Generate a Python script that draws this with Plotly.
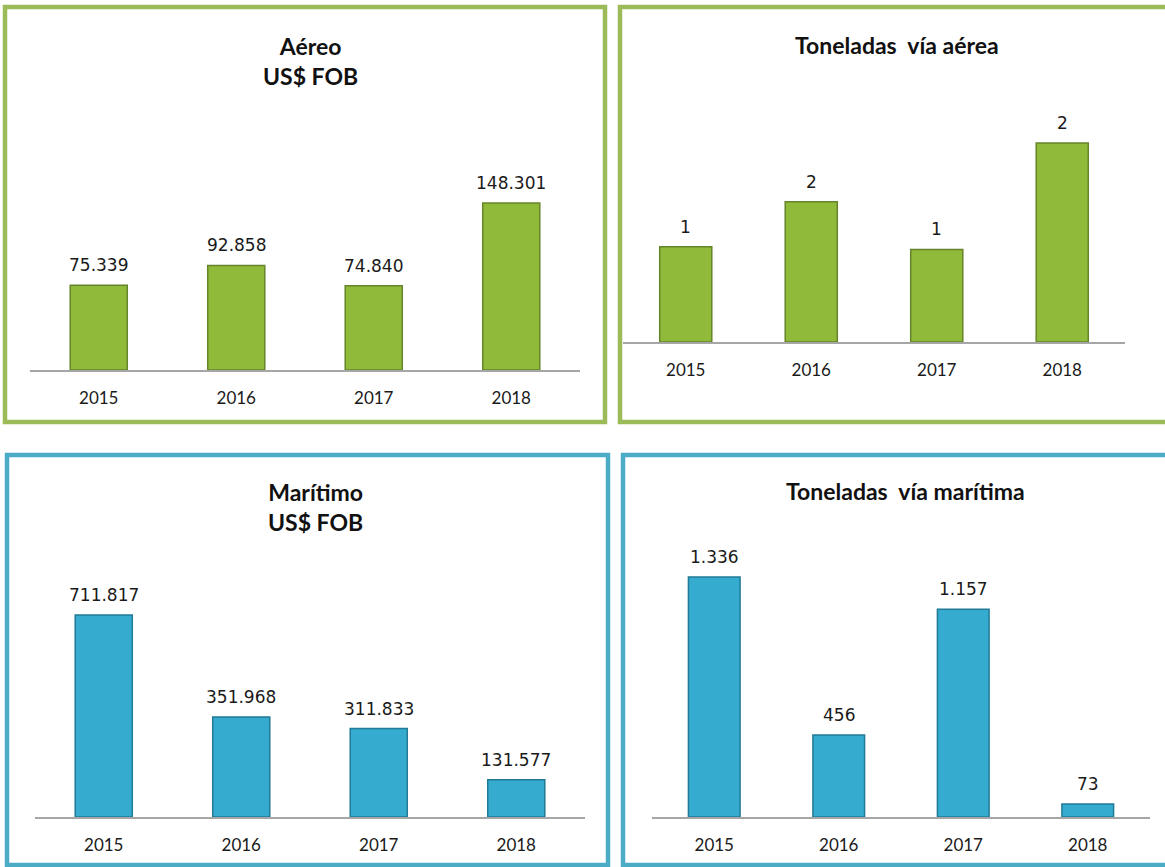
import plotly.graph_objects as go

# ---------------- data ----------------
years = ["2015", "2016", "2017", "2018"]
aereo_fob = [75339, 92858, 74840, 148301]
aereo_ton = [1.10, 1.62, 1.07, 2.30]
maritimo_fob = [711817, 351968, 311833, 131577]
maritimo_ton = [1336, 456, 1157, 73]

titles = ["Aéreo<br>US$ FOB", "Toneladas \u00a0vía aérea",
          "Marítimo<br>US$ FOB", "Toneladas \u00a0vía marítima"]

W, H = 1165, 867
GREEN, GREEN_EDGE, GREEN_FRAME = "#8FBA3A", "#66852A", "#9BBB59"
TEAL, TEAL_EDGE, TEAL_FRAME = "#35ABD0", "#217A96", "#4BACC6"


def fmt(v):
    return f"{v:,.0f}".replace(",", ".")


panels = [
    dict(y=aereo_fob, xpx=(30, 580), ypx=(110, 370), ymax=230890,
         col=GREEN, edge=GREEN_EDGE, frame=(5, 7, 605, 422), fcol=GREEN_FRAME,
         tpos=(310, 61)),
    dict(y=aereo_ton, xpx=(623, 1125), ypx=(110, 342), ymax=2.681,
         col=GREEN, edge=GREEN_EDGE, frame=(620, 7, 1180, 422), fcol=GREEN_FRAME,
         tpos=(897, 45)),
    dict(y=maritimo_fob, xpx=(35, 585), ypx=(560, 817), ymax=905620,
         col=TEAL, edge=TEAL_EDGE, frame=(7, 455, 608, 865), fcol=TEAL_FRAME,
         tpos=(315, 507)),
    dict(y=maritimo_ton, xpx=(652, 1150), ypx=(560, 817), ymax=1430.6,
         col=TEAL, edge=TEAL_EDGE, frame=(623, 455, 1180, 865), fcol=TEAL_FRAME,
         tpos=(905, 491)),
]

fig = go.Figure()
shapes = []
annotations = []
axes = {}

for i, p in enumerate(panels):
    n = "" if i == 0 else str(i + 1)
    xa, ya = "x" + n, "y" + n
    fig.add_trace(go.Bar(
        x=years, y=p["y"], xaxis=xa, yaxis=ya, width=0.415,
        marker=dict(color=p["col"], line=dict(color=p["edge"], width=1.5)),
        showlegend=False, hoverinfo="skip",
    ))
    x0, x1 = p["xpx"]
    ytop, ybase = p["ypx"]
    axes["xaxis" + n] = dict(
        domain=[x0 / W, x1 / W], anchor=ya, type="category",
        categoryorder="array", categoryarray=years, range=[-0.5, 3.5],
        autorange=False, automargin=False,
        showline=True, linecolor="#A6A6A6", linewidth=1.5,
        showgrid=False, zeroline=False, ticks="outside", ticklen=12,
        tickcolor="rgba(0,0,0,0)",
        tickfont=dict(family="Lato", size=17, color="#1a1a1a"),
        fixedrange=True,
    )
    axes["yaxis" + n] = dict(
        domain=[1 - ybase / H, 1 - ytop / H], anchor=xa,
        range=[0, p["ymax"]], autorange=False, automargin=False,
        visible=False, showgrid=False, zeroline=False, fixedrange=True,
    )
    for j, v in enumerate(p["y"]):
        annotations.append(dict(
            x=j, y=v, xref=xa, yref=ya, text=fmt(v), showarrow=False,
            yanchor="bottom", yshift=8,
            font=dict(family="DejaVu Sans", size=17, color="#1a1a1a"),
        ))
    fx0, fy0, fx1, fy1 = p["frame"]
    shapes.append(dict(
        type="rect", xref="paper", yref="paper",
        x0=fx0 / W, x1=fx1 / W, y0=1 - fy1 / H, y1=1 - fy0 / H,
        line=dict(color=p["fcol"], width=4.5), fillcolor="rgba(0,0,0,0)",
        layer="below",
    ))
    tx, ty = p["tpos"]
    annotations.append(dict(
        x=tx / W, y=1 - ty / H, xref="paper", yref="paper",
        text="<b>" + titles[i] + "</b>", showarrow=False,
        xanchor="center", yanchor="middle", align="center",
        font=dict(family="Lato", size=23, color="#111111"),
    ))

fig.update_layout(
    width=W, height=H, margin=dict(l=0, r=0, t=0, b=0, autoexpand=False),
    paper_bgcolor="white", plot_bgcolor="rgba(0,0,0,0)",
    shapes=shapes, annotations=annotations, **axes,
)

fig.write_html("out.html", config={"displayModeBar": False},
               post_script="document.body.style.margin='0';")
